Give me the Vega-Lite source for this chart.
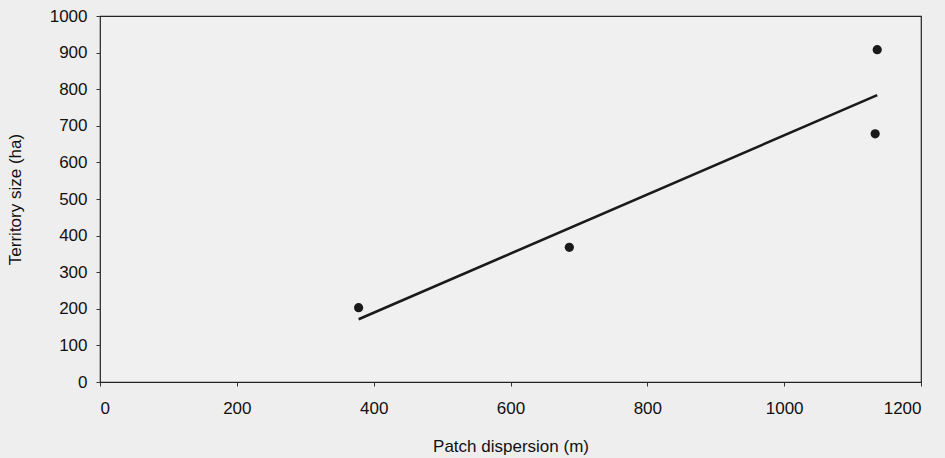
{
  "$schema": "https://vega.github.io/schema/vega-lite/v6.json",
  "width": 821,
  "height": 366,
  "autosize": {"type": "none"},
  "padding": {"left": 100, "top": 16, "right": 24, "bottom": 76},
  "background": "#efeeee",
  "config": {
    "view": {"stroke": "#222222", "strokeWidth": 1.2, "fill": "#f1f0f0"},
    "font": "Liberation Sans"
  },
  "data": {
    "values": [
      {"x": 378, "y": 203},
      {"x": 686, "y": 368},
      {"x": 1136, "y": 908},
      {"x": 1133, "y": 678}
    ]
  },
  "encoding": {
    "x": {
      "field": "x",
      "type": "quantitative",
      "scale": {"domain": [0, 1200], "nice": false},
      "axis": {
        "values": [0, 200, 400, 600, 800, 1000, 1200],
        "format": "d",
        "title": "Patch dispersion (m)",
        "grid": false,
        "domain": false,
        "labelFont": "Liberation Sans",
        "titleFont": "Liberation Sans",
        "labelFontSize": 17,
        "titleFontSize": 17,
        "labelColor": "#111111",
        "titleColor": "#111111",
        "titleFontWeight": "normal",
        "tickColor": "#333333",
        "tickSize": 4,
        "labelPadding": 14,
        "titleY": 64,
        "titleBaseline": "middle"
      }
    },
    "y": {
      "field": "y",
      "type": "quantitative",
      "scale": {"domain": [0, 1000], "nice": false},
      "axis": {
        "values": [0, 100, 200, 300, 400, 500, 600, 700, 800, 900, 1000],
        "format": "d",
        "title": "Territory size (ha)",
        "grid": false,
        "domain": false,
        "labelOverlap": false,
        "labelFont": "Liberation Sans",
        "titleFont": "Liberation Sans",
        "labelFontSize": 17,
        "titleFontSize": 17,
        "labelColor": "#111111",
        "titleColor": "#111111",
        "titleFontWeight": "normal",
        "tickColor": "#333333",
        "tickSize": 4,
        "labelPadding": 9,
        "titleX": -85,
        "titleBaseline": "middle"
      }
    }
  },
  "layer": [
    {
      "transform": [{"regression": "y", "on": "x"}],
      "mark": {"type": "line", "color": "#1a1a1a", "strokeWidth": 2.6}
    },
    {
      "mark": {"type": "circle", "color": "#1a1a1a", "opacity": 1, "size": 85}
    }
  ]
}
